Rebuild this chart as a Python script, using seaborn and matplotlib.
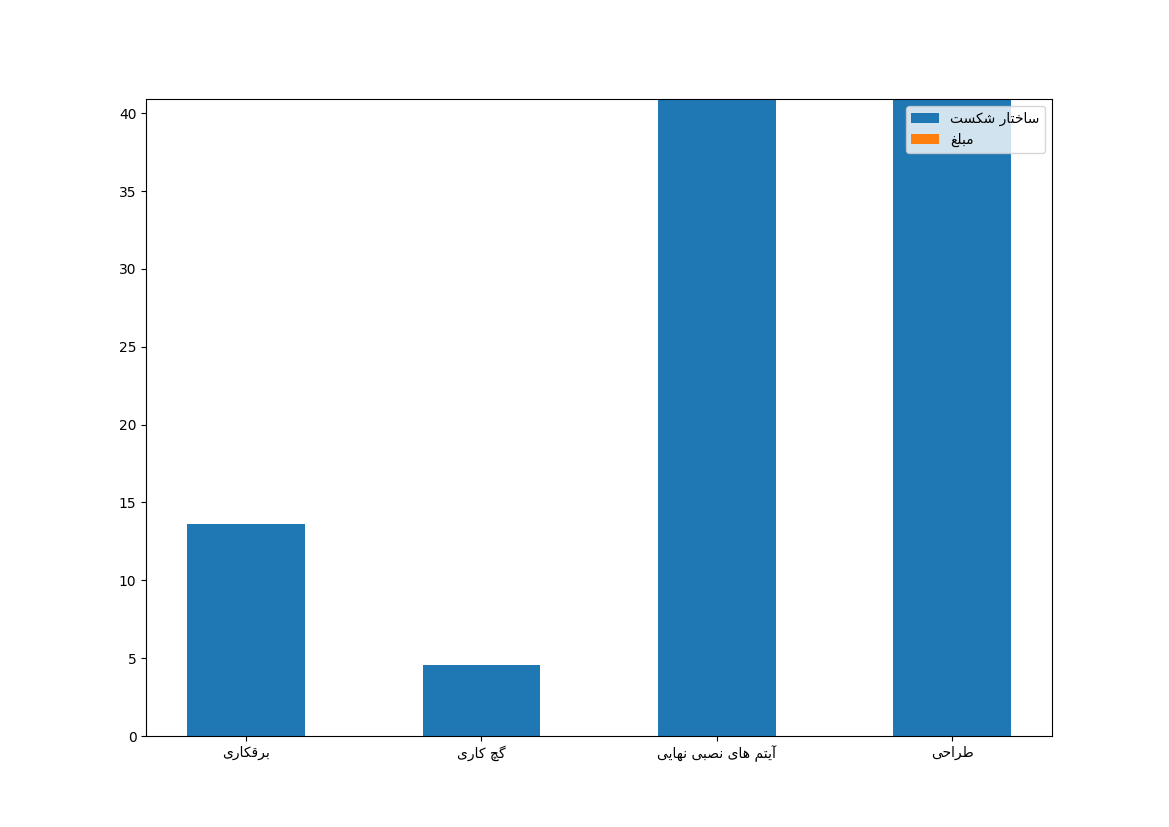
import matplotlib
matplotlib.use("Agg")
import matplotlib.pyplot as plt
import seaborn as sns
import pandas as pd
from matplotlib.patches import Patch


# matplotlib does no arabic shaping, so the labels are written with
# presentation forms in logical order and flipped for left-to-right drawing
def visual(s):
    return s[::-1]


categories = [
    visual("\uFE91\uFEAE\uFED7\uFB91\uFE8E\uFEAD\uFBFC"),  # برقکاری
    visual("\uFB94\uFB7B \uFB90\uFE8E\uFEAD\uFBFC"),  # گچ کاری
    visual("\uFE81\uFBFE\uFE98\uFEE2 \uFEEB\uFE8E\uFBFC "
           "\uFEE7\uFEBC\uFE92\uFBFD \uFEE7\uFEEC\uFE8E\uFBFE\uFBFD"),  # آیتم های نصبی نهایی
    visual("\uFEC3\uFEAE\uFE8D\uFEA3\uFBFD"),  # طراحی
]
series_names = [
    visual("\uFEB3\uFE8E\uFEA7\uFE98\uFE8E\uFEAD \uFEB7\uFB91\uFEB4\uFE96"),  # ساختار شکست
    visual("\uFEE3\uFE92\uFEE0\uFECE"),  # مبلغ
]
structure = [13.6, 4.55, 55.0, 48.0]
amount = [0.0, 0.0, 0.0, 0.0]

df = pd.DataFrame({"cat": categories, "structure": structure, "amount": amount})
df["total"] = df["structure"] + df["amount"]

blue = "#1f77b4"
orange = "#ff7f0e"

fig, ax = plt.subplots(figsize=(11.69, 8.27), dpi=100)

# stacked bars: total in orange, then the first series over it
sns.barplot(data=df, x="cat", y="total", color=orange, width=0.5,
            saturation=1, errorbar=None, ax=ax)
sns.barplot(data=df, x="cat", y="structure", color=blue, width=0.5,
            saturation=1, errorbar=None, ax=ax)

ax.set_xlim(-0.425, 3.425)
ax.set_ylim(0, 40.9)
ax.set_xlabel("")
ax.set_ylabel("")
ax.tick_params(axis="x", rotation=0)

handles = [Patch(facecolor=blue, label=series_names[0]),
           Patch(facecolor=orange, label=series_names[1])]
ax.legend(handles=handles, loc="upper right")

fig.savefig("out.png", dpi=100)
